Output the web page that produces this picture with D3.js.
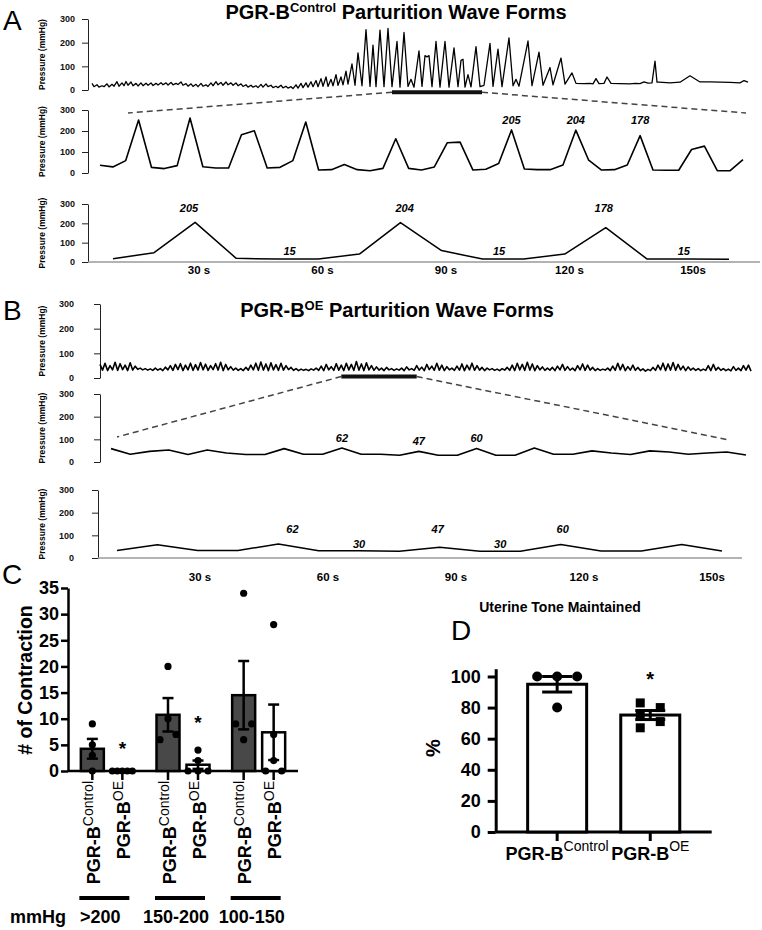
<!DOCTYPE html>
<html>
<head>
<meta charset="utf-8">
<script src="https://cdn.jsdelivr.net/npm/d3@7"></script>
<style>
  body { margin: 0; background: #fff; }
  svg text { font-family: "Liberation Sans", Arial, Helvetica, sans-serif; }
</style>
</head>
<body>
<svg id="fig" width="762" height="930"></svg>
<script>
// ---------- data ----------
var pressTicks = [0, 100, 200, 300];
var secTicks = [30, 60, 90, 120, 150];
var secLabels = ["30 s", "60 s", "90 s", "120 s", "150s"];

// PGR-B control, whole recording: time (sample units) and pressure (mmHg)
var ctlFullT = [2,4,7,9,12,14,17,19,22,24,27,29,32,34,36,38,41,43,46,48,51,53,56,58,61,63,66,68,71,73,76,78,81,83,86,88,91,93,96,98,
  101,103,106,108,111,113,116,118,121,123,126,128,131,133,136,138,141,143,146,148,151,153,156,158,161,163,166,168,171,173,176,178,181,183,186,188,191,193,196,198,
  201,203,206,208,211,213,216,218,221,223,226,228,231,233,236,238,241,243,246,248,251,253,256,258,262,265,268,272,276,280,283,286,290,294,298,302,307,310,314,318,
  321,324,329,332,335,337,339,342,346,350,355,359,364,368,371,373,375,378,381,386,390,394,400,403,408,412,419,423,426,429,438,442,449,453,460,463,471,475,482,486,
  494,500,503,506,509,514,517,521,530,540,545,550,554,558,562,565,567,569,580,590,600,610,620,630,640,650,654,658,670,680,690,700];
var ctlFullP = [28,14,22,12,18,14,26,13,24,16,35,16,30,18,36,20,34,18,28,17,30,18,29,20,30,19,28,21,31,22,30,21,32,22,28,23,34,20,27,16,
  26,15,24,14,28,16,22,15,30,18,35,22,32,20,34,22,30,20,30,18,26,15,22,12,20,12,18,10,24,12,26,14,20,10,16,10,20,9,16,8,
  14,6,22,8,28,10,30,12,35,14,40,14,48,16,55,15,45,18,65,20,55,22,80,25,110,20,157,18,255,15,190,14,253,14,260,14,205,12,243,15,
  45,12,165,15,145,140,145,14,205,12,205,12,178,14,125,130,12,65,13,183,14,20,197,15,173,14,220,18,45,16,207,18,160,20,95,22,
  135,25,72,28,27,28,26,48,27,28,55,28,27,26,28,27,34,29,30,122,33,33,30,33,60,34,34,33,32,30,40,33];
var ctlWindow = [302, 392];

// control, expanded window (evenly sampled)
var ctlZoomP = [37,29,59,252,27,21,35,262,30,24,24,182,201,24,27,59,243,14,16,40,16,11,22,163,22,14,29,144,147,14,
  18,45,205,19,16,16,38,204,61,14,16,38,178,14,13,13,112,128,11,11,64];
var ctlZoomNotes = [{i: 32, t: "205"}, {i: 37, t: "204"}, {i: 42, t: "178"}];

// control, seconds view
var ctlSecP = [17,48,205,19,15,16,41,204,59,15,16,41,178,16,15,14];
var ctlSecPeaks = [{i: 1.85, t: "205"}, {i: 7.1, t: "204"}, {i: 11.95, t: "178"}];
var ctlSecLows = [{i: 4.3, t: "15"}, {i: 9.4, t: "15"}, {i: 13.9, t: "15"}];

// PGR-B OE, whole recording (evenly sampled)
var oeFullP = [55,32,60,30,50,33,64,31,58,34,52,30,62,32,48,35,40,33,38,32,
  37,31,40,32,38,30,44,33,50,31,55,34,58,30,52,33,60,31,54,32,
  63,33,56,31,50,34,58,32,64,30,55,33,46,32,40,31,38,30,43,32,
  52,33,60,31,65,32,57,30,62,33,54,31,60,32,50,34,43,31,38,30,
  36,31,35,30,37,32,40,31,48,30,55,33,46,31,58,32,52,30,60,33,
  55,31,67,32,57,30,62,33,50,31,45,32,40,30,43,33,38,31,37,32,
  40,30,45,33,38,31,50,32,44,30,55,34,48,31,60,32,52,30,46,33,
  40,31,48,32,57,30,52,33,60,31,50,32,43,30,40,33,38,31,36,30,
  38,32,43,31,52,30,60,33,55,31,64,32,57,30,50,33,45,31,40,32,
  43,30,48,33,55,31,46,32,40,30,50,33,57,31,52,32,43,30,38,31,
  36,32,40,30,48,31,60,33,55,30,46,32,52,31,43,30,37,28,35,30,
  43,31,52,33,60,30,57,32,63,31,55,33,48,30,45,32,40,31,38,30,
  36,31,50,30,55,32,43,31,38,30,36,29,46,31,40,30,50,32,52,28];
var oeWindow = [96, 126];

var oeZoomP = [59,34,47,53,33,53,40,33,33,59,34,34,62,34,34,30,47,30,30,60,
  30,30,62,34,34,49,40,33,49,44,34,40,44,31];
var oeZoomNotes = [{i: 12, t: "62"}, {i: 16, t: "47"}, {i: 19, t: "60"}];

var oeSecP = [33,58,33,33,62,32,32,30,47,30,30,60,31,31,60,31];
var oeSecPeaks = [{i: 4.35, t: "62"}, {i: 7.95, t: "47"}, {i: 11.05, t: "60"}];
var oeSecLows = [{i: 6.0, t: "30"}, {i: 9.5, t: "30"}];

// panel C: contractions per pressure band, one value per animal
var pressGroups = [">200", "150-200", "100-150"];
var genotypes = ["Control", "OE"];
var ctlCounts = [[9, 5, 3, 0], [20, 10, 7, 6], [34, 9, 9, 6]];
var oeCounts = [[0, 0, 0, 0, 0], [4, 2, 0, 0, 0], [28, 7, 2, 0, 0]];
var contrStar = [5, 10, null];   // height (counts) of the * over the OE bar

// panel D: uterine tone maintained (%)
var toneCtl = [100, 100, 100, 80];
var toneOE = [83, 80, 75, 71, 67];
var toneStar = 101;

// ---------- drawing ----------
var svg = d3.select('#fig');

function txt(x, y, s, size, weight, anchor) {
  return svg.append('text').attr('x', x).attr('y', y).text(s)
    .attr('font-size', size).attr('font-weight', weight || 'normal')
    .attr('text-anchor', anchor || 'start').attr('fill', '#000');
}

function pressureAxis(axX, yBot, yTop, labelRight) {
  var y = d3.scaleLinear().domain([0, 300]).range([yBot, yTop]);
  var tick = 6;
  var g = svg.append('g').attr('transform', 'translate(' + axX + ',0)')
    .call(d3.axisLeft(y).tickValues(pressTicks).tickSize(tick).tickSizeOuter(0)
      .tickPadding(axX - tick - labelRight));
  g.select('.domain').attr('stroke', '#222');
  g.selectAll('.tick line').attr('stroke', '#222');
  g.selectAll('.tick text').attr('font-size', 9).attr('font-weight', 'bold').attr('fill', '#111')
    .attr('font-family', '"Liberation Sans", Arial, sans-serif');
  svg.append('text').attr('transform', 'translate(45,' + (yBot + yTop) / 2 + ') rotate(-90)')
    .attr('text-anchor', 'middle').attr('font-size', 8.5).attr('font-weight', 'bold')
    .text('Pressure (mmHg)');
  return y;
}

function trace(xs, ys, vals, width, tvals) {
  var line = d3.line()
    .x(function(d, i) { return xs(tvals ? tvals[i] : i); })
    .y(function(d) { return ys(d); });
  svg.append('path').datum(vals).attr('d', line)
    .attr('fill', 'none').attr('stroke', '#000').attr('stroke-width', width)
    .attr('stroke-linejoin', 'round');
}

function notes(list, xs, yOf, dx) {
  list.forEach(function(n) {
    txt(xs(n.i) + (dx || 0), yOf(n), n.t, 11, 'bold', 'middle').attr('font-style', 'italic');
  });
}

function secondsAxis(yLine, x0, x1, ts, yText) {
  svg.append('line').attr('x1', x0).attr('x2', x1).attr('y1', yLine).attr('y2', yLine)
    .attr('stroke', '#9a9a9a').attr('stroke-width', 1.5);
  secTicks.forEach(function(s, i) {
    txt(ts(s), yText, secLabels[i], 11.5, 'bold', 'middle');
  });
}

function windowMark(xs, win, yBar, left, right) {
  svg.append('line').attr('x1', xs(win[0])).attr('x2', xs(win[1]))
    .attr('y1', yBar).attr('y2', yBar).attr('stroke', '#111').attr('stroke-width', 4);
  [[xs(win[0]), left], [xs(win[1]), right]].forEach(function(p) {
    svg.append('line').attr('x1', p[0]).attr('y1', yBar).attr('x2', p[1][0]).attr('y2', p[1][1])
      .attr('stroke', '#444').attr('stroke-width', 1.5).attr('stroke-dasharray', '6,4');
  });
}

function titleWithSup(x, y, sup) {
  var t = svg.append('text').attr('x', x).attr('y', y).attr('text-anchor', 'middle')
    .attr('font-size', 20).attr('font-weight', 'bold').style('white-space', 'pre');
  t.append('tspan').text('PGR-B');
  t.append('tspan').attr('font-size', 13).attr('dy', -7).text(sup);
  t.append('tspan').attr('dy', 7).text(' Parturition Wave Forms');
}

// ----- panel A -----
txt(3, 30, 'A', 28);
titleWithSup(396, 19, 'Control');

var aTopY = pressureAxis(88, 90, 19, 75);
var aTopX = d3.scaleLinear().domain([0, 657]).range([90, 747]);
trace(aTopX, aTopY, ctlFullP, 1.3, ctlFullT);

var aMidY = pressureAxis(88, 173, 110, 75);
var aMidX = d3.scaleLinear().domain([0, ctlZoomP.length - 1]).range([100, 743]);
windowMark(aTopX, ctlWindow, 92.3, [128, 113], [746, 113]);
trace(aMidX, aMidY, ctlZoomP, 1.6);
notes(ctlZoomNotes, aMidX, function() { return aMidY(233); });

var aBotY = pressureAxis(88, 262, 204, 75);
var aBotX = d3.scaleLinear().domain([0, ctlSecP.length - 1]).range([113, 729]);
var aSec = d3.scaleLinear().domain([30, 150]).range([199, 693]);
secondsAxis(262, 88, 760, aSec, 274);
trace(aBotX, aBotY, ctlSecP, 1.5);
notes(ctlSecPeaks, aBotX, function() { return aBotY(258); });
notes(ctlSecLows, aBotX, function() { return aBotY(36); });

// ----- panel B -----
txt(3, 320, 'B', 28);
titleWithSup(397, 317, 'OE');

var bTopY = pressureAxis(100, 378, 304, 74);
var bTopX = d3.scaleLinear().domain([0, oeFullP.length - 1]).range([100, 751]);
trace(bTopX, bTopY, oeFullP, 1.6);

var bMidY = pressureAxis(100, 462, 394, 74);
var bMidX = d3.scaleLinear().domain([0, oeZoomP.length - 1]).range([111, 746]);
windowMark(bTopX, oeWindow, 376.5, [117, 437], [729, 440]);
trace(bMidX, bMidY, oeZoomP, 1.6);
notes(oeZoomNotes, bMidX, function(n) { return bMidY(oeZoomP[n.i]) - 6; });

var bBotY = pressureAxis(98, 558, 490, 74);
var bBotX = d3.scaleLinear().domain([0, oeSecP.length - 1]).range([117, 722]);
var bSec = d3.scaleLinear().domain([30, 150]).range([200, 712]);
secondsAxis(558, 98, 742, bSec, 581);
trace(bBotX, bBotY, oeSecP, 1.5);
notes(oeSecPeaks, bBotX, function() { return bBotY(110); });
notes(oeSecLows, bBotX, function() { return bBotY(44); });

// ----- scatter spreading (points at similar heights are set side by side) -----
function spread(vals, y, minD, step, maxW) {
  var items = vals.map(function(v) { return { v: v, py: y(v), dx: 0 }; })
    .sort(function(a, b) { return a.py - b.py; });
  var clusters = [], cur = [items[0]];
  for (var i = 1; i < items.length; i++) {
    if (items[i].py - items[i - 1].py < minD) cur.push(items[i]);
    else { clusters.push(cur); cur = [items[i]]; }
  }
  clusters.push(cur);
  clusters.forEach(function(c) {
    if (c.length < 2) return;
    if (c[c.length - 1].py - c[0].py < minD) {
      var s = Math.min(step * 2, maxW / (c.length - 1));
      c.forEach(function(d, j) { d.dx = ((c.length - 1) / 2 - j) * s; });
    } else {
      c.forEach(function(d, j) { d.dx = j % 2 === 0 ? -step : step; });
    }
  });
  return items;
}

function supLabel(sel, sizeMain, sizeSup, sup, raise) {
  sel.append('tspan').attr('font-weight', 'bold').attr('font-size', sizeMain).text('PGR-B');
  sel.append('tspan').attr('font-weight', 'normal').attr('font-size', sizeSup).attr('dy', -raise).text(sup);
}

// ----- panel C -----
txt(2, 584, 'C', 28);
var cY = d3.scaleLinear().domain([0, 35]).range([771, 588]);
var cGroup = d3.scalePoint().domain(pressGroups).range([68, 298]).padding(0.52);
var cGen = d3.scalePoint().domain(genotypes).range([-15, 15]);
var cBars = [];
pressGroups.forEach(function(g, gi) {
  genotypes.forEach(function(gen) {
    var pts = (gen === 'Control' ? ctlCounts : oeCounts)[gi];
    cBars.push({ group: g, gen: gen, pts: pts, mean: d3.mean(pts),
      sem: (d3.deviation(pts) || 0) / Math.sqrt(pts.length), x: cGroup(g) + cGen(gen) });
  });
});

var cAx = svg.append('g').attr('transform', 'translate(68,0)')
  .call(d3.axisLeft(cY).tickValues(d3.range(0, 36, 5)).tickSize(7).tickSizeOuter(0).tickPadding(2));
cAx.selectAll('.domain, .tick line').attr('stroke', '#000').attr('stroke-width', 2.5);
cAx.selectAll('.tick text').attr('font-size', 18).attr('font-weight', 'bold').attr('fill', '#000')
  .attr('font-family', '"Liberation Sans", Arial, sans-serif');
svg.append('line').attr('x1', 68).attr('x2', 298).attr('y1', cY(0)).attr('y2', cY(0))
  .attr('stroke', '#000').attr('stroke-width', 2.5);
svg.selectAll('.cxtick').data(cBars).enter().append('line')
  .attr('x1', function(d) { return d.x; }).attr('x2', function(d) { return d.x; })
  .attr('y1', cY(0)).attr('y2', cY(0) + 9).attr('stroke', '#000').attr('stroke-width', 2.5);
svg.append('text').attr('transform', 'translate(32,680) rotate(-90)').attr('text-anchor', 'middle')
  .attr('font-size', 19.5).attr('font-weight', 'bold').text('# of Contraction');

var cW = 23;
svg.selectAll('.cbar').data(cBars).enter().append('rect')
  .attr('x', function(d) { return d.x - cW / 2; }).attr('width', cW)
  .attr('y', function(d) { return cY(d.mean); })
  .attr('height', function(d) { return cY(0) - cY(d.mean); })
  .attr('fill', function(d) { return d.gen === 'Control' ? '#484848' : '#fff'; })
  .attr('stroke', '#000').attr('stroke-width', 2.5);
cBars.forEach(function(d) {
  if (d.sem > 0) {
    var lo = cY(d.mean - d.sem), hi = cY(d.mean + d.sem);
    svg.append('line').attr('x1', d.x).attr('x2', d.x).attr('y1', lo).attr('y2', hi)
      .attr('stroke', '#000').attr('stroke-width', 2.5);
    [lo, hi].forEach(function(yy) {
      svg.append('line').attr('x1', d.x - 5.5).attr('x2', d.x + 5.5).attr('y1', yy).attr('y2', yy)
        .attr('stroke', '#000').attr('stroke-width', 2.5);
    });
  }
  spread(d.pts, cY, 7, 8, 20).forEach(function(p) {
    svg.append('circle').attr('cx', d.x + p.dx).attr('cy', p.py).attr('r', 3.6).attr('fill', '#000');
  });
});
pressGroups.forEach(function(g, gi) {
  if (contrStar[gi] == null) return;
  txt(cGroup(g) + cGen('OE'), cY(contrStar[gi]) + 10, '*', 19, 'bold', 'middle');
});
cBars.forEach(function(d) {
  var t = svg.append('text').attr('transform', 'translate(' + (d.x + 7.5) + ',781) rotate(-90)')
    .attr('text-anchor', 'end');
  supLabel(t, 18, 14, d.gen, 7);
});
pressGroups.forEach(function(g) {
  svg.append('line').attr('x1', cGroup(g) - 28).attr('x2', cGroup(g) + 22).attr('y1', 898).attr('y2', 898)
    .attr('stroke', '#000').attr('stroke-width', 4);
  txt(cGroup(g) - 7, 923, g, 18, 'bold', 'middle');
});
txt(10, 923, 'mmHg', 18, 'bold');

// ----- panel D -----
txt(451, 640, 'D', 28);
txt(560, 612, 'Uterine Tone Maintained', 14, 'bold', 'middle');
var dY = d3.scaleLinear().domain([0, 105]).range([832, 668.7]);
var dX = d3.scalePoint().domain(genotypes).range([495.7, 711.7]).padding(0.66);
var dAx = svg.append('g').attr('transform', 'translate(495.7,0)')
  .call(d3.axisLeft(dY).tickValues(d3.range(0, 101, 20)).tickSize(8).tickSizeOuter(0).tickPadding(7));
dAx.selectAll('.domain, .tick line').attr('stroke', '#000').attr('stroke-width', 3);
dAx.selectAll('.tick text').attr('font-size', 18).attr('font-weight', 'bold').attr('fill', '#000')
  .attr('font-family', '"Liberation Sans", Arial, sans-serif');
svg.append('line').attr('x1', 495.7).attr('x2', 711.7).attr('y1', dY(0)).attr('y2', dY(0))
  .attr('stroke', '#000').attr('stroke-width', 3);
svg.append('text').attr('transform', 'translate(440,748) rotate(-90)').attr('text-anchor', 'middle')
  .attr('font-size', 20).attr('font-weight', 'bold').text('%');

var dBars = [{ gen: 'Control', pts: toneCtl }, { gen: 'OE', pts: toneOE }];
var dW = 59;
dBars.forEach(function(d) {
  d.x = dX(d.gen);
  d.mean = d3.mean(d.pts);
  d.sem = d3.deviation(d.pts) / Math.sqrt(d.pts.length);
  svg.append('line').attr('x1', d.x).attr('x2', d.x).attr('y1', dY(0)).attr('y2', dY(0) + 9)
    .attr('stroke', '#000').attr('stroke-width', 3);
  svg.append('rect').attr('x', d.x - dW / 2).attr('width', dW)
    .attr('y', dY(d.mean)).attr('height', dY(0) - dY(d.mean))
    .attr('fill', '#fff').attr('stroke', '#000').attr('stroke-width', 3);
  var lo = dY(d.mean - d.sem), hi = dY(d.mean + d.sem);
  svg.append('line').attr('x1', d.x).attr('x2', d.x).attr('y1', lo).attr('y2', hi)
    .attr('stroke', '#000').attr('stroke-width', 3);
  [lo, hi].forEach(function(yy) {
    svg.append('line').attr('x1', d.x - 15).attr('x2', d.x + 15).attr('y1', yy).attr('y2', yy)
      .attr('stroke', '#000').attr('stroke-width', 3);
  });
  spread(d.pts, dY, 10, 10, 40).forEach(function(p) {
    if (d.gen === 'Control') {
      svg.append('circle').attr('cx', d.x + p.dx).attr('cy', p.py).attr('r', 5).attr('fill', '#000');
    } else {
      svg.append('rect').attr('x', d.x + p.dx - 4.5).attr('y', p.py - 4.5)
        .attr('width', 9).attr('height', 9).attr('fill', '#000');
    }
  });
  var t = svg.append('text').attr('x', d.x).attr('y', 860).attr('text-anchor', 'middle');
  supLabel(t, 18, 14, d.gen, 9);
});
txt(dX('OE'), dY(toneStar) + 11, '*', 20, 'bold', 'middle');
</script>
</body>
</html>
